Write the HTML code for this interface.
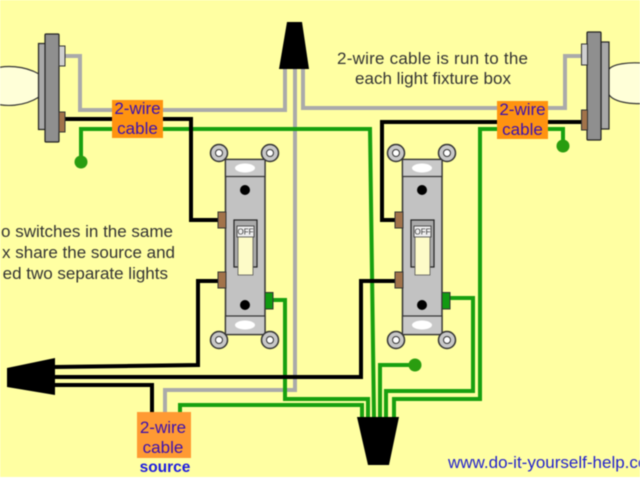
<!DOCTYPE html>
<html><head><meta charset="utf-8"><style>
html,body{margin:0;padding:0;background:#fff}
svg{display:block;filter:blur(.4px)}
text{font-family:"Liberation Sans",sans-serif}
</style></head><body>
<svg width="640" height="480" viewBox="0 0 640 480" xmlns="http://www.w3.org/2000/svg">
<defs>
<g id="sw">
<rect x="225.500" y="159.500" width="39.500" height="175" fill="#c2c2c2" stroke="#333" stroke-width="1.500"/>
<rect x="225.500" y="159.500" width="39.500" height="17" fill="#c9c9c9" stroke="#333" stroke-width="1.200"/>
<rect x="225.500" y="316" width="39.500" height="18.500" fill="#c9c9c9" stroke="#333" stroke-width="1.200"/>
<ellipse cx="245" cy="168" rx="10" ry="4.500" fill="#fff"/>
<ellipse cx="245" cy="325" rx="10" ry="4.500" fill="#fff"/>
<circle cx="245" cy="190" r="5" fill="#000"/>
<circle cx="245" cy="305" r="5" fill="#000"/>
<rect x="234" y="220" width="23" height="47" fill="#aaa" stroke="#222" stroke-width="1.200"/>
<rect x="237" y="226" width="17" height="11" fill="#eee" stroke="#333" stroke-width=".8"/>
<text x="245.500" y="234.500" font-size="8" text-anchor="middle" fill="#333">OFF</text>
<rect x="238" y="237" width="15" height="38" fill="#fdfbc8" stroke="#555" stroke-width=".8"/>
<g fill="#c8c8c8" stroke="#333" stroke-width="1.500">
<circle cx="219" cy="153" r="8.500"/><circle cx="270" cy="153" r="8.500"/>
<circle cx="219" cy="340" r="8.500"/><circle cx="270" cy="340" r="8.500"/></g>
<g fill="#fff" stroke="#333" stroke-width="1">
<circle cx="219" cy="153" r="3.500"/><circle cx="270" cy="153" r="3.500"/>
<circle cx="219" cy="340" r="3.500"/><circle cx="270" cy="340" r="3.500"/></g>
<rect x="218" y="212" width="8" height="16" fill="#a2734a" stroke="#333" stroke-width="1"/>
<rect x="218" y="272" width="8" height="16" fill="#a2734a" stroke="#333" stroke-width="1"/>
<rect x="265" y="292.500" width="8" height="16.500" fill="#119a11" stroke="#333" stroke-width="1"/>
</g>
</defs>
<rect width="640" height="477" fill="#ffffa2"/>

<!-- Bulbs -->
<path d="M-10 70 C5 64 25 66 39 74 V97 C25 106 5 108 -10 102Z" fill="#ffffd8" stroke="#333" stroke-width="1.200"/>
<path d="M650 64 C630 61 610 64 608 71 V93 C612 102 630 105 650 103Z" fill="#ffffd8" stroke="#333" stroke-width="1.200"/>

<!-- Gray wires -->
<g fill="none" stroke="#aaa" stroke-width="4">
<path d="M65 56H80V110H285V69"/>
<path d="M303 69V108H565V56H582"/>
<path d="M295 69V390H165V412"/>
</g>
<!-- Green wires -->
<g fill="none" stroke="#18a010" stroke-width="4">
<path d="M81 162V129H370L374 417"/>
<path d="M563 146V129H480V399H394V417"/>
<path d="M446 298H473V391H386V417"/>
<path d="M415 365H380V417"/>
<path d="M273 300H285V399H368V417"/>
<path d="M180 412V405H362V417"/>
</g>
<circle cx="81" cy="162" r="6.500" fill="#2a9d10"/>
<circle cx="563" cy="146" r="6.500" fill="#2a9d10"/>
<circle cx="415" cy="365" r="6.500" fill="#2a9d10"/>
<!-- Black wires -->
<g fill="none" stroke="#000" stroke-width="4">
<path d="M65 119H191V220H218"/>
<path d="M582 122H382V220H397"/>
<path d="M55 367L198 365V281H218"/>
<path d="M55 377H361V281H397"/>
<path d="M55 385H152V412"/>
</g>

<!-- Fixtures -->
<rect x="38.500" y="43.500" width="7" height="86" fill="#a8a8a8" stroke="#222" stroke-width="1.200"/>
<rect x="45" y="34" width="14" height="108" rx="1" fill="#8f8f8f" stroke="#222" stroke-width="1.200"/>
<rect x="59" y="46" width="6" height="20" fill="#d0d0d0" stroke="#333"/>
<rect x="59" y="112" width="6" height="20" fill="#a2734a" stroke="#333"/>
<rect x="601" y="42" width="8" height="87" fill="#a8a8a8" stroke="#222" stroke-width="1.200"/>
<rect x="587" y="32" width="14" height="108" rx="1" fill="#8f8f8f" stroke="#222" stroke-width="1.200"/>
<rect x="581.500" y="44" width="6" height="21" fill="#d0d0d0" stroke="#333"/>
<rect x="581.500" y="110" width="6" height="20" fill="#a2734a" stroke="#333"/>

<!-- Switches -->
<use href="#sw"/>
<use href="#sw" x="177"/>

<!-- Wire nuts -->
<polygon points="287,22 302,22 309,69 279,69" fill="#000"/>
<polygon points="357,417 399,417 389,465 368,465" fill="#000"/>
<polygon points="7,368 55,358 55,395 7,387" fill="#000"/>

<!-- Labels -->
<rect x="112" y="100" width="51" height="38" fill="#ff9310"/>
<rect x="497" y="101" width="51" height="38" fill="#ff9310"/>
<rect x="137" y="412" width="54" height="46" fill="#ff9a33"/>
<g font-size="17" text-anchor="middle" fill="#3a10b0">
<text x="137.500" y="114">2-wire</text><text x="137.500" y="134">cable</text>
<text x="522.500" y="115">2-wire</text><text x="522.500" y="135">cable</text>
<text x="163" y="433">2-wire</text><text x="163" y="453">cable</text>
</g>
<text x="165" y="472" font-size="15.500" font-weight="bold" text-anchor="middle" fill="#1c1ce0">source</text>

<g font-size="17" fill="#333">
<text x="432.500" y="64" text-anchor="middle" textLength="191">2-wire cable is run to the</text>
<text x="433" y="84" text-anchor="middle">each light fixture box</text>
<text x="173" y="237" text-anchor="end">o switches in the same</text>
<text x="175" y="258" text-anchor="end">x share the source and</text>
<text x="168" y="279" text-anchor="end">ed two separate lights</text>
</g>
<text x="448" y="468" font-size="17" fill="#2222cc">www.do-it-yourself-help.com</text>
</svg>
</body></html>
